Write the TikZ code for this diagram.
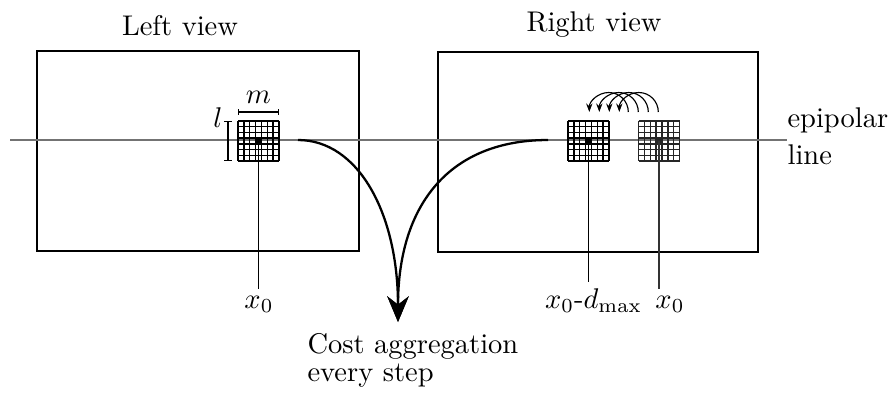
\documentclass[tikz,border=0pt]{standalone}
\usetikzlibrary{arrows.meta}
\begin{document}
\begin{tikzpicture}[x=0.351pt,y=-0.351pt,
  view/.style={draw, line width=0.45pt, minimum height=70.2pt, inner sep=0pt},
  epiline/.style={draw=black!55, line width=0.45pt},
  drop/.style={line width=0.4pt},
  lbl/.style={inner sep=2pt, anchor=base},
  dimbar/.style={line width=0.4pt},
  bigarrow/.style={line width=0.8pt, -{Stealth[length=9pt,width=7.5pt]}},
  shiftarrow/.style={line width=0.4pt, -{Stealth[length=3pt,width=2.2pt]}},
  patch/.pic={
    \foreach \i in {0,...,7}{
      \draw[line width=0.5pt] ({-20.5+\i*41/7},-20) -- ++(0,40);
      \draw[line width=0.5pt] (-20.5,{-20+\i*40/7}) -- ++(41,0);
    }
    \fill (-2.93,-2.86) rectangle (2.93,2.86);
  }]
\useasboundingbox (0,0) rectangle (891,394);

% views
\node[view, minimum width=113pt] (L) at (198,151) {};
\node[view, minimum width=112.3pt] (R) at (598,152) {};
\node[anchor=base] (tL) at (180,35) {Left view};
\node[anchor=base] (tR) at (594,31) {Right view};

% epipolar line
\node[anchor=west, inner sep=0pt, align=left] (epi) at (787,136.6) {epipolar\\[1pt]line};
\coordinate (eS) at (10,140);
\draw[epiline] (eS) -- (eS -| epi.west);

% patches
\coordinate (gL) at (258.5,141);
\coordinate (gR1) at (588.5,141);
\coordinate (gR2) at (659,141);
\pic at (gL) {patch};
\pic at (gR1) {patch};
\pic[color=black!85] at (gR2) {patch};

% labels below
\node[lbl] (xL) at (259,308) {$x_0$};
\node[lbl] (xR1) at (593.5,308) {$x_0$-$d_{\max}$};
\node[lbl] (xR2) at (670,308) {$x_0$};
\draw[drop] (gL) -- (gL |- xL.north);
\draw[drop] (gR1) -- (gR1 |- xR1.north);
\draw[drop, black!80] (gR2) -- (gR2 |- xR2.north);

% dimensions of the patch
\coordinate (mA) at (238,112);
\coordinate (mB) at (279,112);
\coordinate (lA) at (228,121);
\coordinate (lB) at (228,161);
\draw[dimbar, {Bar[width=1.8pt]}-{Bar[width=1.8pt]}] (mA) -- (mB);
\draw[dimbar, {Bar[width=2.5pt]}-{Bar[width=2.5pt]}] (lA) -- (lB);
\node[lbl, inner sep=0pt] (mlab) at (258.5,103) {$m$};
\node[lbl, inner sep=0pt] (llab) at (218,127) {$l$};

% shifting arcs
\foreach \s [count=\k] in {628.3,638.3,648.3,658.3}{
  \coordinate (arc\k) at (\s,112);
  \draw[shiftarrow] (arc\k) arc[start angle=0, end angle=-180, radius=19.5];
}

% cost aggregation
\coordinate (sL) at (298,140);
\coordinate (sR) at (548,140);
\coordinate (tip) at (398,322);
\draw[bigarrow] (sL) .. controls +(60,0) and +(0,-109) .. (tip);
\draw[bigarrow] (sR) .. controls +(-98,0) and +(0,-118) .. (tip);
\node[anchor=north west, inner sep=0pt, align=left] (cost) at (307,333) {Cost aggregation\\[-2.2pt]every step};
\end{tikzpicture}
\end{document}
